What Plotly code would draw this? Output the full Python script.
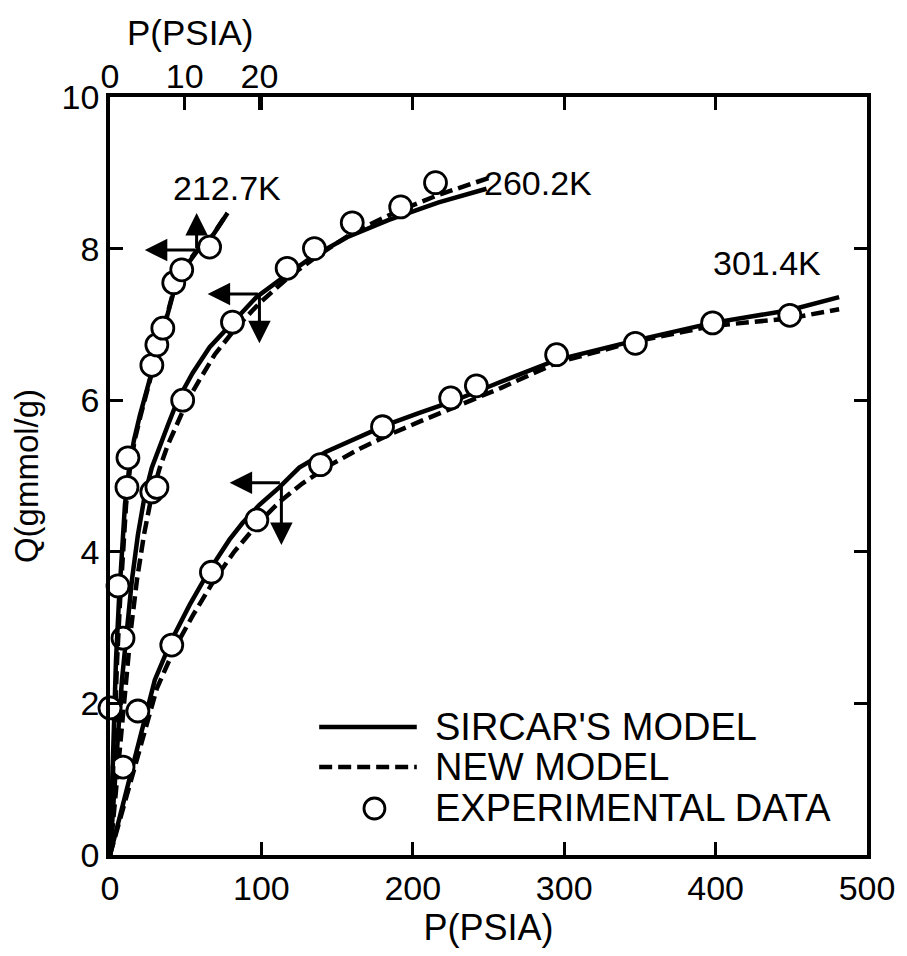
import plotly.graph_objects as go

# ---------------- data ----------------
# 212.7K : pressures on the TOP axis (psia scale 0-~100)
p212_exp = [0.0, 1.07, 2.27, 2.4, 5.6, 6.27, 7.07, 8.53, 9.6, 13.33]
q212_exp = [1.94, 3.55, 4.85, 5.24, 6.46, 6.73, 6.95, 7.55, 7.72, 8.02]
p212_sircar = [0, 0.27, 0.53, 0.8, 1.2, 1.6, 2.0, 2.53, 3.2, 4.0, 4.93, 5.73, 6.67, 7.6, 8.67, 10.13, 11.6, 13.33, 15.73]
q212_sircar = [0, 0.99, 1.78, 2.57, 3.36, 4.02, 4.62, 5.08, 5.47, 5.8, 6.13, 6.42, 6.79, 7.12, 7.48, 7.76, 7.96, 8.11, 8.47]
p212_new = [0, 0.35, 0.65, 0.95, 1.35, 1.75, 2.15, 2.65, 3.3, 4.1, 5.0, 5.8, 6.7, 7.6, 8.6, 10.0, 11.5, 13.3, 15.7]
q212_new = [0, 0.99, 1.78, 2.57, 3.36, 4.02, 4.62, 5.08, 5.47, 5.8, 6.13, 6.42, 6.79, 7.12, 7.48, 7.76, 7.96, 8.11, 8.47]

# 260.2K : bottom axis
p260_exp = [8.6, 27.6, 31.0, 48.0, 80.9, 117.0, 135.0, 160.0, 192.0, 215.0]
q260_exp = [2.86, 4.79, 4.85, 6.0, 7.03, 7.74, 8.0, 8.34, 8.55, 8.87]
p260_sircar = [0, 2.6, 5.3, 7.9, 11.2, 14.5, 18.4, 23.0, 27.6, 32.9, 38.2, 44.7, 54.6, 65.8, 80.9, 96.7, 116.4, 133.6, 156.6, 184.2, 217.1, 248.7]
q260_sircar = [0, 0.86, 1.58, 2.31, 2.97, 3.63, 4.22, 4.75, 5.11, 5.41, 5.67, 6.0, 6.36, 6.70, 7.03, 7.36, 7.65, 7.89, 8.15, 8.38, 8.61, 8.79]
p260_new = [0, 3.9, 7.2, 10.5, 13.8, 17.8, 22.4, 27.6, 32.9, 38.2, 44.1, 51.3, 59.2, 69.1, 82.2, 98.7, 118.4, 138.2, 161.2, 187.5, 217.1, 250.0]
q260_new = [0, 0.86, 1.58, 2.31, 2.97, 3.63, 4.22, 4.75, 5.11, 5.41, 5.67, 6.0, 6.27, 6.6, 6.93, 7.28, 7.63, 7.92, 8.22, 8.47, 8.71, 8.93]

# 301.4K : bottom axis
p301_exp = [8.6, 18.4, 40.8, 67.0, 97.0, 139.0, 180.0, 225.0, 242.0, 295.0, 347.0, 398.0, 449.0]
q301_exp = [1.16, 1.9, 2.77, 3.73, 4.42, 5.15, 5.65, 6.03, 6.19, 6.6, 6.75, 7.02, 7.12]
p301_sircar = [0, 9.9, 19.7, 29.6, 40.8, 52.6, 65.8, 78.9, 87.5, 98.7, 111.8, 125, 142.8, 162.5, 182.2, 203.9, 225.7, 256.6, 294.7, 347.4, 398, 449.3, 481.6]
q301_sircar = [0, 0.79, 1.58, 2.31, 2.84, 3.30, 3.76, 4.16, 4.38, 4.62, 4.85, 5.11, 5.32, 5.50, 5.67, 5.83, 5.98, 6.23, 6.53, 6.79, 7.02, 7.19, 7.36]
p301_new = [0, 10.5, 21, 31, 42.5, 55, 68, 82, 98, 112, 127, 145, 165, 185, 206, 227, 258, 296, 348, 398, 449, 481.6]
q301_new = [0, 0.75, 1.5, 2.2, 2.72, 3.17, 3.6, 4.0, 4.38, 4.66, 4.9, 5.14, 5.36, 5.55, 5.73, 5.9, 6.16, 6.5, 6.78, 6.98, 7.08, 7.2]

x_ticks = [0, 100, 200, 300, 400, 500]
x_top_ticks = [0, 10, 20]
y_ticks = [0, 2, 4, 6, 8, 10]
curve_labels = ["212.7K", "260.2K", "301.4K"]
legend_labels = ["SIRCAR'S MODEL", "NEW MODEL", "EXPERIMENTAL DATA"]

# ---------------- figure ----------------
FONT = "Liberation Sans"
LW = 4.5
DASH = "13px,6px"
fig = go.Figure()

def line(x, y, dash, xaxis="x"):
    fig.add_trace(go.Scatter(x=x, y=y, mode="lines", xaxis=xaxis, yaxis="y",
                             line=dict(color="black", width=LW, dash=dash),
                             showlegend=False, hoverinfo="skip"))

def pts(x, y, xaxis="x"):
    fig.add_trace(go.Scatter(x=x, y=y, mode="markers", xaxis=xaxis, yaxis="y", cliponaxis=False,
                             marker=dict(size=22, color="white", line=dict(color="black", width=2.8)),
                             showlegend=False, hoverinfo="skip"))

line(p212_new, q212_new, DASH, "x2")
line(p212_sircar, q212_sircar, "solid", "x2")
line(p260_new, q260_new, DASH)
line(p260_sircar, q260_sircar, "solid")
line(p301_new, q301_new, DASH)
line(p301_sircar, q301_sircar, "solid")
pts(p212_exp, q212_exp, "x2")
pts(p260_exp, q260_exp)
pts(p301_exp, q301_exp)

tickfont = dict(family=FONT, size=34, color="black")
fig.update_layout(
    width=907, height=956,
    margin=dict(l=110, r=37, t=97, b=101),
    paper_bgcolor="white", plot_bgcolor="white",
    font=dict(family=FONT, color="black"),
    xaxis=dict(range=[0, 500], tickvals=x_ticks, ticks="inside", ticklen=13, tickwidth=2.5,
               tickcolor="black", showline=True, linewidth=3.5, linecolor="black", mirror="ticks",
               showgrid=False, zeroline=False, tickfont=tickfont,
               title=dict(text="P(PSIA)", font=dict(family=FONT, size=36), standoff=10)),
    xaxis2=dict(range=[0, 101.3], overlaying="x", side="top", tickvals=x_top_ticks,
                ticks="inside", ticklen=13, tickwidth=2.5, tickcolor="black",
                showline=False, showgrid=False, zeroline=False, tickfont=tickfont,
                ticklabelstandoff=1),
    yaxis=dict(range=[0, 10], tickvals=y_ticks, ticks="inside", ticklen=13, tickwidth=2.5,
               tickcolor="black", showline=True, linewidth=3.5, linecolor="black", mirror="ticks",
               showgrid=False, zeroline=False, tickfont=tickfont,
               title=dict(text="Q(gmmol/g)", font=dict(family=FONT, size=33), standoff=14)),
)

def px2paper_x(px): return (px - 110) / 760
def px2paper_y(py): return (855 - py) / 758

# top-axis title (placed over the low-pressure scale)
fig.add_annotation(x=px2paper_x(190), y=px2paper_y(33), xref="paper", yref="paper", text="P(PSIA)",
                   showarrow=False, xanchor="center", yanchor="middle",
                   font=dict(family=FONT, size=35, color="black"))

# curve labels
lab_font = dict(family=FONT, size=34, color="black")
for txt, (x, y) in zip(curve_labels, [(77.6, 8.8), (283, 8.87), (434, 7.81)]):
    fig.add_annotation(x=x, y=y, xref="x", yref="y", text=txt, showarrow=False,
                       xanchor="center", yanchor="middle", font=lab_font)

# axis indicator arrows (corner -> head)
arrows = [((57.2, 7.98), (23, 7.98)), ((57.2, 7.98), (57.2, 8.47)),
          ((98.7, 7.40), (64.5, 7.40)), ((98.7, 7.40), (98.7, 6.75)),
          ((113.2, 4.91), (79, 4.91)), ((113.2, 4.91), (113.2, 4.09))]
for (tx, ty), (hx, hy) in arrows:
    fig.add_annotation(x=hx, y=hy, ax=tx, ay=ty, xref="x", yref="y", axref="x", ayref="y",
                       text="", showarrow=True, arrowhead=2, arrowsize=1.5, arrowwidth=3,
                       arrowcolor="black", standoff=0, startstandoff=0)

# legend (drawn manually)
leg_font = dict(family=FONT, size=38, color="black")
rows_y = [727, 767, 808]
fig.add_shape(type="line", xref="paper", yref="paper", x0=px2paper_x(320), x1=px2paper_x(418),
              y0=px2paper_y(rows_y[0]), y1=px2paper_y(rows_y[0]), line=dict(color="black", width=4.5))
fig.add_shape(type="line", xref="paper", yref="paper", x0=px2paper_x(320), x1=px2paper_x(418),
              y0=px2paper_y(rows_y[1]), y1=px2paper_y(rows_y[1]), line=dict(color="black", width=4.5, dash=DASH))
fig.add_shape(type="circle", xref="paper", yref="paper",
              x0=px2paper_x(365), x1=px2paper_x(386), y0=px2paper_y(798), y1=px2paper_y(819),
              line=dict(color="black", width=2.8), fillcolor="white")
for txt, ry in zip(legend_labels, rows_y):
    fig.add_annotation(x=px2paper_x(434), y=px2paper_y(ry), xref="paper", yref="paper", text=txt,
                       showarrow=False, xanchor="left", yanchor="middle", font=leg_font)

fig.write_html("out.html")
